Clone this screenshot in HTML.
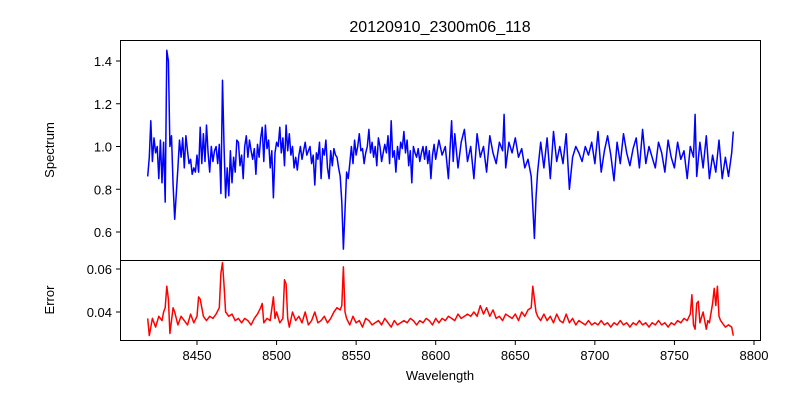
<!DOCTYPE html>
<html><head><meta charset="utf-8"><style>
body{margin:0;background:#fff}
svg{display:block;font-family:"Liberation Sans","DejaVu Sans",sans-serif}
</style></head><body>
<svg id="chart" width="800" height="400" viewBox="0 0 800 400" xmlns="http://www.w3.org/2000/svg">
<rect width="800" height="400" fill="#fff"/>
<text x="440" y="32" font-size="16" text-anchor="middle">20120910_2300m06_118</text>
<text transform="translate(54,150) rotate(-90)" font-size="13" text-anchor="middle">Spectrum</text>
<text transform="translate(54,300) rotate(-90)" font-size="13" text-anchor="middle">Error</text>
<text x="440" y="380" font-size="13" text-anchor="middle">Wavelength</text>
<g id="g"></g>
</svg>
<script>
const specWl=[8419,8420,8421,8422,8423,8424,8425,8426,8427,8428,8429,8430,8431,8432,8433,8434,8435,8436,8438,8439,8440,8441,8442,8443,8444,8445,8446,8447,8448,8449,8450,8451,8452,8453,8454,8455,8456,8457,8458,8459,8460,8461,8462,8463,8464,8465,8466,8467,8468,8469,8470,8471,8472,8473,8474,8475,8476,8477,8478,8479,8480,8481,8482,8483,8484,8485,8486,8487,8488,8489,8490,8491,8492,8493,8494,8495,8496,8497,8498,8499,8500,8501,8502,8503,8504,8505,8506,8507,8508,8509,8510,8511,8512,8513,8514,8515,8516,8517,8518,8519,8520,8521,8522,8523,8524,8525,8526,8527,8528,8529,8530,8531,8532,8533,8534,8535,8536,8537,8538,8539,8540,8541,8542,8543,8544,8545,8546,8547,8548,8549,8550,8551,8552,8553,8554,8555,8556,8557,8558,8559,8560,8561,8562,8563,8564,8565,8566,8567,8568,8569,8570,8571,8572,8573,8574,8575,8576,8577,8578,8579,8580,8581,8582,8583,8584,8585,8586,8587,8588,8589,8590,8591,8592,8593,8594,8595,8596,8597,8598,8599,8600,8602,8604,8606,8608,8610,8611,8612,8614,8616,8618,8620,8622,8624,8626,8628,8630,8632,8634,8636,8638,8640,8642,8643,8644,8646,8648,8650,8652,8654,8656,8658,8660,8661,8662,8663,8664,8666,8668,8670,8672,8674,8676,8678,8680,8682,8684,8686,8688,8690,8692,8694,8696,8698,8700,8702,8704,8706,8708,8710,8712,8714,8716,8718,8720,8722,8724,8726,8728,8730,8732,8734,8736,8738,8740,8742,8744,8746,8748,8750,8752,8754,8756,8758,8760,8762,8763,8764,8766,8768,8770,8772,8774,8776,8778,8780,8782,8784,8786,8787];
const specFlux=[0.86,0.95,1.12,0.93,1.04,0.97,1.0,0.85,1.03,0.83,1.02,0.74,1.45,1.40,1.0,1.05,0.82,0.66,0.9,1.03,0.95,1.04,0.9,1.05,0.98,0.92,0.94,0.87,0.9,0.88,0.96,0.88,1.09,0.92,1.06,0.93,1.1,0.97,0.88,1.0,0.93,0.98,1.0,0.92,1.01,0.78,1.31,0.99,0.76,0.9,0.77,0.98,0.83,0.95,0.88,1.03,1.02,0.91,0.96,0.85,1.0,1.05,0.95,1.03,0.98,0.94,0.99,0.87,1.01,0.95,1.04,1.09,0.93,1.1,0.99,1.03,0.9,0.98,0.76,0.97,1.02,1.0,1.09,0.97,1.04,0.91,1.1,0.98,1.06,0.96,1.0,0.9,0.95,0.89,0.96,1.0,0.94,0.98,1.02,0.96,0.98,1.0,0.92,0.96,0.82,0.97,0.94,1.02,0.85,0.99,0.96,1.03,0.9,0.85,0.98,0.91,0.99,0.96,0.95,0.9,0.86,0.74,0.52,0.7,0.88,0.85,0.92,1.0,0.92,1.03,0.96,1.0,1.06,0.98,0.99,0.92,0.97,1.0,1.08,0.97,1.02,0.95,1.0,0.91,1.04,1.0,0.93,0.97,1.01,0.97,1.05,0.92,1.12,0.95,0.98,0.88,1.0,0.94,1.02,0.99,1.07,0.97,1.03,0.91,0.98,0.83,1.0,0.97,0.95,0.99,0.93,0.97,1.0,0.94,1.0,0.92,0.98,0.85,0.96,1.01,0.94,1.03,0.96,1.0,0.85,1.12,0.93,1.06,0.9,1.02,1.08,0.93,1.0,0.85,1.06,0.95,1.0,0.88,1.05,0.97,0.92,1.02,0.98,1.15,0.9,1.02,0.97,1.04,0.95,0.99,0.9,0.94,0.86,0.72,0.57,0.76,0.88,1.02,0.9,1.04,0.85,1.07,0.93,1.0,0.92,1.06,0.8,0.95,1.0,0.97,0.93,1.0,0.96,1.02,0.92,1.07,0.88,0.98,1.05,0.96,0.84,1.02,0.92,1.06,0.97,0.91,0.99,1.04,0.9,1.08,0.92,1.0,0.95,0.9,1.02,0.97,0.88,1.03,0.95,0.9,1.02,0.94,0.98,0.85,1.0,0.95,1.15,0.86,1.02,0.9,1.05,0.85,0.96,0.88,1.03,0.85,0.95,0.86,0.97,1.07];
const errWl=[8419,8420,8422,8424,8426,8428,8429,8430,8431,8432,8433,8435,8436,8438,8440,8442,8444,8446,8448,8450,8451,8452,8454,8456,8458,8460,8462,8464,8465,8466,8467,8468,8470,8472,8474,8476,8478,8480,8482,8484,8486,8488,8490,8491,8492,8494,8496,8498,8499,8500,8502,8504,8505,8506,8507,8508,8510,8512,8514,8516,8518,8520,8522,8524,8526,8528,8530,8532,8534,8536,8538,8540,8541,8542,8543,8544,8546,8548,8550,8552,8554,8556,8558,8560,8562,8564,8566,8568,8570,8572,8574,8576,8578,8580,8582,8584,8586,8588,8590,8592,8594,8596,8598,8600,8602,8604,8606,8608,8610,8612,8614,8616,8618,8620,8622,8624,8626,8628,8630,8632,8634,8636,8638,8640,8642,8644,8646,8648,8650,8652,8654,8656,8658,8660,8661,8662,8663,8664,8666,8668,8670,8672,8674,8676,8678,8680,8682,8684,8686,8688,8690,8692,8694,8696,8698,8700,8702,8704,8706,8708,8710,8712,8714,8716,8718,8720,8722,8724,8726,8728,8730,8732,8734,8736,8738,8740,8742,8744,8746,8748,8750,8752,8754,8756,8758,8760,8761,8762,8763,8764,8765,8766,8768,8770,8771,8772,8774,8775,8776,8777,8778,8779,8780,8782,8784,8786,8787];
const errVal=[0.037,0.029,0.037,0.033,0.038,0.036,0.04,0.042,0.052,0.046,0.03,0.042,0.04,0.034,0.038,0.036,0.034,0.039,0.035,0.038,0.047,0.046,0.038,0.036,0.038,0.037,0.039,0.042,0.058,0.063,0.052,0.04,0.038,0.039,0.036,0.037,0.035,0.037,0.036,0.034,0.037,0.039,0.042,0.044,0.035,0.037,0.036,0.047,0.037,0.04,0.035,0.037,0.055,0.053,0.037,0.033,0.04,0.036,0.038,0.035,0.04,0.034,0.036,0.04,0.035,0.036,0.038,0.035,0.037,0.04,0.042,0.041,0.043,0.061,0.04,0.037,0.034,0.038,0.035,0.036,0.033,0.037,0.036,0.034,0.035,0.036,0.034,0.037,0.035,0.033,0.036,0.034,0.035,0.036,0.035,0.037,0.036,0.034,0.036,0.035,0.037,0.036,0.034,0.037,0.035,0.037,0.036,0.038,0.037,0.036,0.039,0.037,0.038,0.039,0.038,0.04,0.038,0.043,0.039,0.042,0.038,0.041,0.037,0.038,0.036,0.039,0.038,0.037,0.039,0.036,0.04,0.038,0.041,0.042,0.052,0.046,0.04,0.038,0.036,0.039,0.036,0.038,0.035,0.039,0.036,0.035,0.039,0.035,0.037,0.034,0.036,0.035,0.034,0.036,0.034,0.035,0.034,0.036,0.034,0.035,0.033,0.035,0.034,0.036,0.034,0.035,0.033,0.035,0.034,0.036,0.034,0.035,0.033,0.035,0.034,0.036,0.034,0.035,0.033,0.035,0.034,0.036,0.035,0.037,0.036,0.039,0.048,0.034,0.032,0.044,0.045,0.035,0.04,0.032,0.036,0.035,0.044,0.051,0.043,0.052,0.038,0.036,0.035,0.033,0.034,0.033,0.029];
const xTicks=[8450,8500,8550,8600,8650,8700,8750,8800];
const specTicks=[0.6,0.8,1.0,1.2,1.4];
const errTicks=[0.04,0.06];

const NS="http://www.w3.org/2000/svg";
const g=document.getElementById('g');
const X=w=>197+(w-8450)*(754-197)/350;
const YS=v=>232-(v-0.6)*213.75;
const YE=v=>312-(v-0.04)*2150;
function mk(tag,at){const e=document.createElementNS(NS,tag);for(const k in at)e.setAttribute(k,at[k]);g.appendChild(e);return e;}

const p1=mk('polyline',{points:specWl.map((w,i)=>X(w).toFixed(1)+','+YS(specFlux[i]).toFixed(1)).join(' '),fill:'none',stroke:'#0000ff','stroke-width':1.5,'stroke-linejoin':'round'});


const p2=mk('polyline',{points:errWl.map((w,i)=>X(w).toFixed(1)+','+YE(errVal[i]).toFixed(1)).join(' '),fill:'none',stroke:'#ff0000','stroke-width':1.5,'stroke-linejoin':'round'});



const f1=mk('rect',{x:120.5,y:40.5,width:640,height:220,fill:'none',stroke:'#000','stroke-width':1});


const f2=mk('rect',{x:120.5,y:260.5,width:640,height:80,fill:'none',stroke:'#000','stroke-width':1});



specTicks.forEach(v=>{const y=YS(v);
 const t=mk('line',{x1:116,x2:120.5,y1:y,y2:y,stroke:'#000'});
 
 
 const l=mk('text',{x:112,y:y+5,'font-size':13,'text-anchor':'end'});l.textContent=v.toFixed(1);
 
 });
errTicks.forEach(v=>{const y=YE(v);
 const t=mk('line',{x1:116,x2:120.5,y1:y,y2:y,stroke:'#000'});
 
 
 const l=mk('text',{x:112,y:y+5,'font-size':13,'text-anchor':'end'});l.textContent=v.toFixed(2);
 
 });
xTicks.forEach(w=>{const x=X(w);
 const t=mk('line',{x1:x,x2:x,y1:340.5,y2:345,stroke:'#000'});
 
 
 const l=mk('text',{x:x,y:360,'font-size':13,'text-anchor':'middle'});l.textContent=w;
 
 });
</script>
</body></html>
